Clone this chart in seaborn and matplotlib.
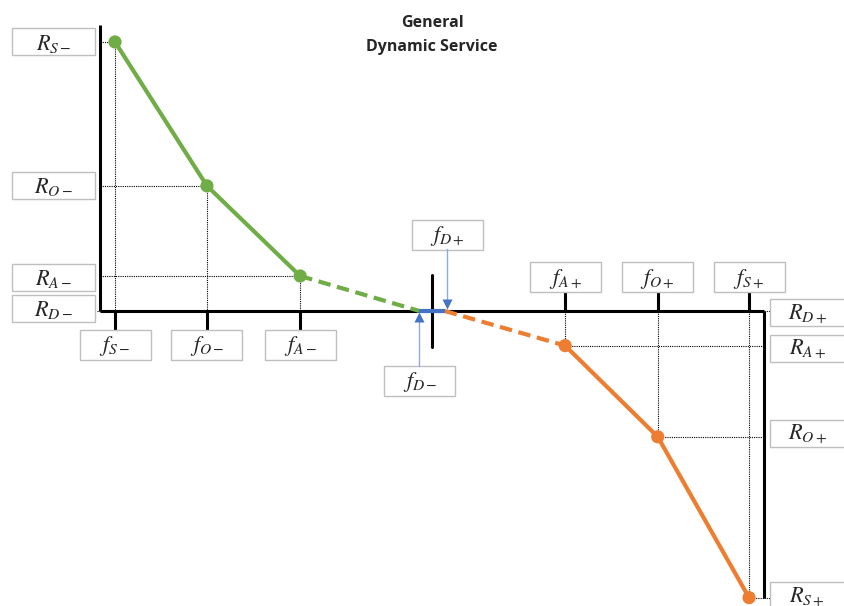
import numpy as np
import pandas as pd
import matplotlib.pyplot as plt
from matplotlib.patches import Rectangle
import seaborn as sns

sns.set_style("white")
plt.rcParams['mathtext.fontset'] = 'stix'

# ---------------------------------------------------------------
# data (frequency deviation in mHz, response in % of contracted power)
# ---------------------------------------------------------------
freq_low = [-500, -355, -208, -20]        # f_S-, f_O-, f_A-, f_D-
resp_low = [100, 46.5, 13, 0]             # R_S-, R_O-, R_A-, R_D-
freq_high = [20, 210, 356, 500]           # f_D+, f_A+, f_O+, f_S+
resp_high = [0, -12.9, -46.8, -106.6]     # R_D+, R_A+, R_O+, R_S+

f_low_labels = [r'$f_{S-}$', r'$f_{O-}$', r'$f_{A-}$', r'$f_{D-}$']
r_low_labels = [r'$R_{S-}$', r'$R_{O-}$', r'$R_{A-}$', r'$R_{D-}$']
f_high_labels = [r'$f_{D+}$', r'$f_{A+}$', r'$f_{O+}$', r'$f_{S+}$']
r_high_labels = [r'$R_{D+}$', r'$R_{A+}$', r'$R_{O+}$', r'$R_{S+}$']

GREEN = '#70AD47'
ORANGE = '#ED7D31'
BLUE = '#4472C4'
LIGHTBLUE = '#8FAADC'
BOXEDGE = '#BFBFBF'

# pixel -> data scale (for box sizes)
PX_X = 0.634
PX_Y = 2.69

fig = plt.figure(figsize=(8.44, 6.06), dpi=100)
ax = fig.add_axes([0, 0, 1, 1])
ax.set_xlim(-681.4, 649.8)
ax.set_ylim(-109.7, 115.6)
ax.axis('off')

AX_L, AX_R = -523, 523.7


def label_box(xc, yc, text, w_px, h_px, fs=16):
    w, h = w_px / PX_X, h_px / PX_Y
    ax.add_patch(Rectangle((xc - w / 2, yc - h / 2), w, h, facecolor='white',
                           edgecolor=BOXEDGE, lw=1.0, zorder=4, clip_on=True))
    ax.text(xc, yc - 0.6, text, ha='center', va='center', fontsize=fs, zorder=5)


def dotted(xs, ys):
    ax.plot(xs, ys, color='black', lw=0.8, ls=(0, (1, 1)), zorder=2)


# dotted guides
for f, r in zip(freq_low[:3], resp_low[:3]):
    dotted([AX_L, f], [r, r])
    dotted([f, f], [r, 0])
for f, r in zip(freq_high[1:], resp_high[1:]):
    dotted([f, AX_R], [r, r])
    dotted([f, f], [0, r])
dotted([AX_L - 6, AX_L], [0, 0])
dotted([AX_R, AX_R + 10], [0, 0])
dotted([AX_R, AX_R + 10], [resp_high[3], resp_high[3]])

# axes
ax.plot([AX_L, AX_L], [106.3, 0], color='black', lw=2.2, zorder=3, solid_capstyle='butt')
ax.plot([AX_L, AX_R], [0, 0], color='black', lw=2.2, zorder=3, solid_capstyle='butt')
ax.plot([AX_R, AX_R], [0, resp_high[3]], color='black', lw=2.2, zorder=3, solid_capstyle='butt')
for f in freq_low[:3]:
    ax.plot([f, f], [0, -7.1], color='black', lw=2.2, zorder=3)
for f in freq_high[1:]:
    ax.plot([f, f], [0, 7.1], color='black', lw=2.2, zorder=3)
ax.plot([0, 0], [13.4, -13.4], color='black', lw=2.2, zorder=3)

# curves
low = pd.DataFrame({'f': freq_low, 'r': resp_low})
high = pd.DataFrame({'f': freq_high, 'r': resp_high})
sns.lineplot(data=low.iloc[:3], x='f', y='r', sort=False, color=GREEN, lw=3, ax=ax, zorder=6)
sns.lineplot(data=low.iloc[2:], x='f', y='r', sort=False, color=GREEN, lw=3,
             linestyle=(0, (3, 1.6)), ax=ax, zorder=6)
sns.lineplot(data=high.iloc[1:], x='f', y='r', sort=False, color=ORANGE, lw=3, ax=ax, zorder=6)
sns.lineplot(data=high.iloc[:2], x='f', y='r', sort=False, color=ORANGE, lw=3,
             linestyle=(0, (3, 1.6)), ax=ax, zorder=6)
sns.scatterplot(data=low.iloc[:3], x='f', y='r', color=GREEN, s=90, edgecolor='none', ax=ax, zorder=7)
sns.scatterplot(data=high.iloc[1:], x='f', y='r', color=ORANGE, s=90, edgecolor='none', ax=ax, zorder=7)

# deadband
ax.plot([freq_low[3], freq_high[0]], [0, 0], color=BLUE, lw=3, zorder=7, solid_capstyle='butt')

# deadband arrows
ax.plot([freq_low[3], freq_low[3]], [-20.5, -1.5], color=LIGHTBLUE, lw=1, zorder=5)
ax.plot([freq_low[3]], [-2.4], marker='^', color=BLUE, ms=7, mec='none', zorder=8)
ax.plot([freq_high[0] + 3, freq_high[0] + 3], [22.9, 1.5], color=LIGHTBLUE, lw=1, zorder=5)
ax.plot([freq_high[0] + 3], [2.4], marker='v', color=BLUE, ms=7, mec='none', zorder=8)

# label boxes
r_low_y = [100, 46.8, 12.5, 0.9]
for lab, y in zip(r_low_labels, r_low_y):
    label_box(-597, y, lab, 83, 27)
for lab, f in zip(f_low_labels[:3], freq_low[:3]):
    label_box(f, -12.6, lab, 71, 30)
label_box(-19, -26, f_low_labels[3], 71, 30)
label_box(23.7, 28.4, f_high_labels[0], 71, 30)
for lab, f in zip(f_high_labels[1:], freq_high[1:]):
    label_box(f, 12.6, lab, 71, 30)
r_high_y = [-0.6, -13.8, -45.4, -105.8]
for lab, y in zip(r_high_labels, r_high_y):
    label_box(592, y, lab, 75, 27)

# title
ax.text(0, 106.9, 'General', ha='center', va='center', fontsize=11.5,
        fontweight='bold', family='Open Sans')
ax.text(0, 98.1, 'Dynamic Service', ha='center', va='center', fontsize=11.5,
        fontweight='bold', family='Open Sans')

plt.savefig('out.png', dpi=100)
